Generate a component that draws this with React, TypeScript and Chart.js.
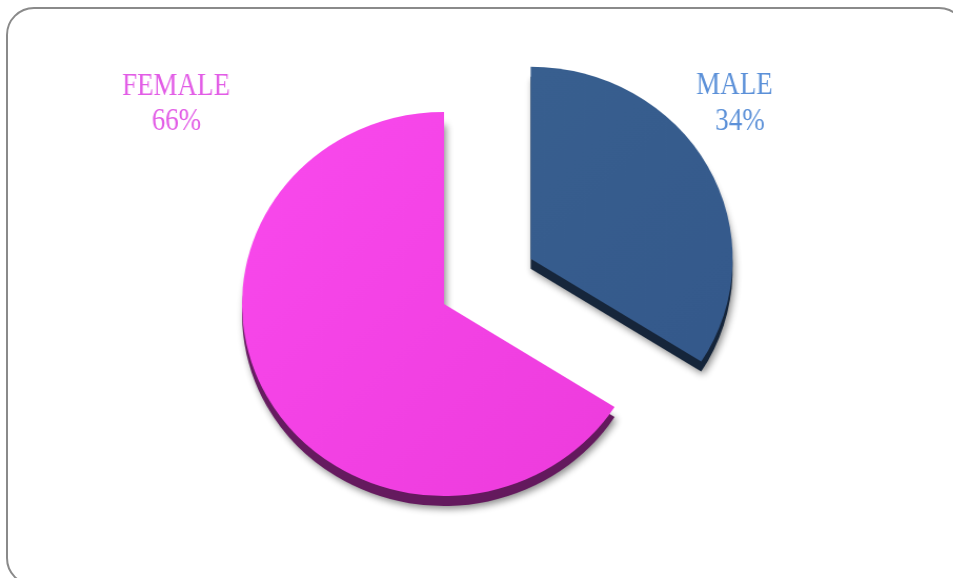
import React, { useEffect, useRef } from "react";
import { Chart, registerables } from "chart.js";

Chart.register(...registerables);

// ---- data ----
const categories = ["MALE", "FEMALE"];
const values = [34, 66];
const percentLabels = ["34%", "66%"];

// ---- style ----
const sliceTop = [
  ["#3A6291", "#33578A"],
  ["#FA4AEE", "#EC3ADB"],
];
const labelColors = ["#5B90D8", "#E25CE6"];
const explode = [94, 0];
const DEPTH = 10;
const SX = 1.052; // horizontal stretch of the pie
const CX = 444;
const FONT = '27px "Liberation Serif", "DejaVu Serif", serif';
const SY = 1.2;
// page coords: [nameX, nameBaseline, pctX, pctBaseline]
const labelLayout = [
  [734.5, 94, 740, 130],
  [176, 95, 176.5, 130],
];

export default function App() {
  const ref = useRef<HTMLCanvasElement>(null);

  useEffect(() => {
    const canvas = ref.current!;

    const drawArcs = (chart: any) => {
      const ctx = chart.ctx;
      const arcs = chart.getDatasetMeta(0).data;
      arcs.forEach((a: any, i: number) => {
        const mid = (a.startAngle + a.endAngle) / 2;
        ctx.save();
        ctx.translate(Math.cos(mid) * explode[i], Math.sin(mid) * explode[i]);
        a.draw(ctx);
        ctx.restore();
      });
    };

    const pie3d = {
      id: "pie3d",
      beforeDatasetsDraw(chart: any) {
        const ctx = chart.ctx;
        ctx.save();
        ctx.filter = "brightness(0.42)";
        ctx.shadowColor = "rgba(0,0,0,0.45)";
        ctx.shadowBlur = 7;
        ctx.shadowOffsetX = 2;
        ctx.shadowOffsetY = 3;
        ctx.translate(0, DEPTH);
        drawArcs(chart);
        ctx.restore();
        drawArcs(chart);
        return false;
      },
    };

    const labels = {
      id: "outerLabels",
      afterDraw(chart: any) {
        const ctx = chart.ctx;
        ctx.save();
        ctx.font = FONT;
        ctx.textAlign = "center";
        ctx.textBaseline = "alphabetic";
        categories.forEach((name, i) => {
          const [nx, ny, px, py] = labelLayout[i];
          ctx.fillStyle = labelColors[i];
          const put = (t: string, x: number, y: number) => {
            ctx.save();
            ctx.translate(CX + (x - CX) / SX, y);
            ctx.scale(1 / SX, SY);
            ctx.fillText(t, 0, 0);
            ctx.restore();
          };
          put(name, nx, ny);
          put(percentLabels[i], px, py);
        });
        ctx.restore();
      },
    };

    const chart = new Chart(canvas, {
      type: "pie",
      data: {
        labels: categories,
        datasets: [
          {
            data: values,
            borderWidth: 0,
            radius: 192,
            backgroundColor: (c: any) => {
              const ch = c.chart;
              const i = c.dataIndex;
              if (!ch.chartArea) return sliceTop[i][0];
              const cx = (ch.chartArea.left + ch.chartArea.right) / 2;
              const cy = (ch.chartArea.top + ch.chartArea.bottom) / 2;
              const g = ch.ctx.createLinearGradient(cx - 200, cy - 200, cx + 200, cy + 200);
              g.addColorStop(0, sliceTop[i][0]);
              g.addColorStop(1, sliceTop[i][1]);
              return g;
            },
          } as any,
        ],
      },
      options: {
        responsive: false,
        animation: false,
        layout: { padding: { left: 0, right: 65, top: 30, bottom: 0 } },
        plugins: {
          legend: { display: false },
          tooltip: { enabled: false },
        },
        events: [],
      } as any,
      plugins: [pie3d, labels],
    });

    return () => chart.destroy();
  }, []);

  return (
    <div
      style={{
        position: "fixed",
        left: 0,
        top: 0,
        width: 953,
        height: 578,
        overflow: "hidden",
        background: "#ffffff",
      }}
    >
      <canvas
        ref={ref}
        width={953}
        height={578}
        style={{
          position: "absolute",
          left: 0,
          top: 0,
          transform: `scaleX(${SX})`,
          transformOrigin: `${CX}px 0px`,
        }}
      />
      <div
        style={{
          position: "absolute",
          left: 6,
          top: 7,
          width: 957,
          height: 575,
          border: "2px solid #8a8a8a",
          borderRadius: 28,
          pointerEvents: "none",
        }}
      />
    </div>
  );
}
